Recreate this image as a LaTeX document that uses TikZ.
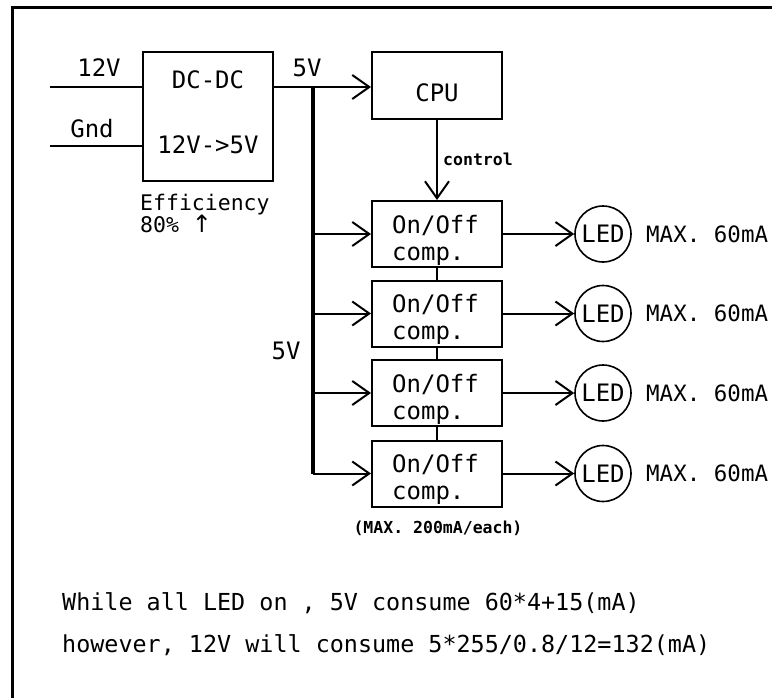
\documentclass[tikz,border=0pt]{standalone}
\usepackage{fontspec}
\setmainfont{DejaVu Sans Mono}
\newfontfamily\arrowfont{DejaVu Sans}
\usetikzlibrary{arrows.meta}
\begin{document}
\begin{tikzpicture}[x=1pt,y=-1pt,
  wire/.style={line width=2pt},
  busline/.style={line width=3.5pt},
  blk/.style={draw, line width=2pt, rectangle, inner sep=0pt},
  led/.style={draw, line width=1.6pt, circle, minimum size=56pt, inner sep=0pt, font=\fontsize{24}{24}\selectfont},
  lbl/.style={inner sep=0pt, font=\fontsize{24}{24}\selectfont},
  maxlbl/.style={inner sep=0pt, font=\fontsize{22.5}{22.5}\selectfont},
  botlbl/.style={inner sep=0pt, font=\fontsize{23.4}{23.4}\selectfont},
  midlbl/.style={inner sep=0pt, font=\fontsize{21.5}{21.5}\selectfont},
  smalllbl/.style={inner sep=0pt, font=\bfseries\fontsize{16.5}{16.5}\selectfont},
  arr/.style={wire, line join=round, -{Straight Barb[length=17pt,width=24pt,line width=2pt]}},
]
\useasboundingbox (0,0) rectangle (772,697);
\begin{scope}
\clip (0,0) rectangle (772,697);
\draw[line width=3pt] (12,720) -- (12,7) -- (800,7);
\end{scope}

% blocks
\node[blk, minimum width=130pt, minimum height=129pt] (dcdc) at (208,116.5) {};
\node[blk, minimum width=130pt, minimum height=67pt] (cpu) at (437,85.5) {};
\foreach \i/\y in {1/234,2/313.5,3/393,4/473.5}{
  \node[blk, minimum width=130pt, minimum height=66pt] (sw\i) at (437,\y) {};
  \node[lbl, anchor=base west] (swa\i) at (392,\y-1) {On/Off};
  \node[lbl, anchor=base west] (swb\i) at (392,\y+26) {comp.};
  \node[led] (led\i) at (603,\y) {LED};
  \node[maxlbl, anchor=west] (max\i) at (646,\y) {MAX. 60mA};
}

% texts
\node[lbl] (t12) at (99,68) {12V};
\node[lbl] (tgnd) at (92,129) {Gnd};
\node[lbl] (tdc) at (208,80) {DC-DC};
\node[lbl] (tconv) at (208,145) {12V->5V};
\node[lbl] (t5a) at (307,68) {5V};
\node[midlbl, anchor=base west] (teff) at (140,210) {Efficiency};
\node[midlbl, anchor=base west] (t80) at (140,232) {80\% {\arrowfont\fontsize{24}{24}\selectfont ↑}};
\node[lbl] (tcpu) at (437,93) {CPU};
\node[lbl] (t5b) at (286,351) {5V};
\node[smalllbl, anchor=base west] (tctl) at (443,165) {control};
\node[smalllbl, anchor=base] (tmax) at (438,533) {(MAX. 200mA/each)};
\node[botlbl, anchor=base west] (bot1) at (62,610) {While all LED on , 5V consume 60*4+15(mA)};
\node[botlbl, anchor=base west] (bot2) at (62,652) {however, 12V will consume 5*255/0.8/12=132(mA)};

% connectors
\coordinate (in12) at (50,87);
\coordinate (ingnd) at (50,146);
\coordinate (j0) at (313,87);
\draw[wire] (in12) -- (in12 -| dcdc.west);
\draw[wire] (ingnd) -- (ingnd -| dcdc.west);
\draw[arr] (j0 -| dcdc.east) -- (j0 -| cpu.west);
\draw[busline] (j0) -- (j0 |- sw4.west);
\foreach \i in {1,2,3,4}{
  \draw[arr] (j0 |- sw\i.west) -- (sw\i.west);
  \draw[arr] (sw\i.east) -- (led\i.west);
}
\draw[arr] (cpu.south) -- (sw1.north);
\draw[wire] (sw1.south) -- (sw2.north);
\draw[wire] (sw2.south) -- (sw3.north);
\draw[wire] (sw3.south) -- (sw4.north);
\end{tikzpicture}
\end{document}
